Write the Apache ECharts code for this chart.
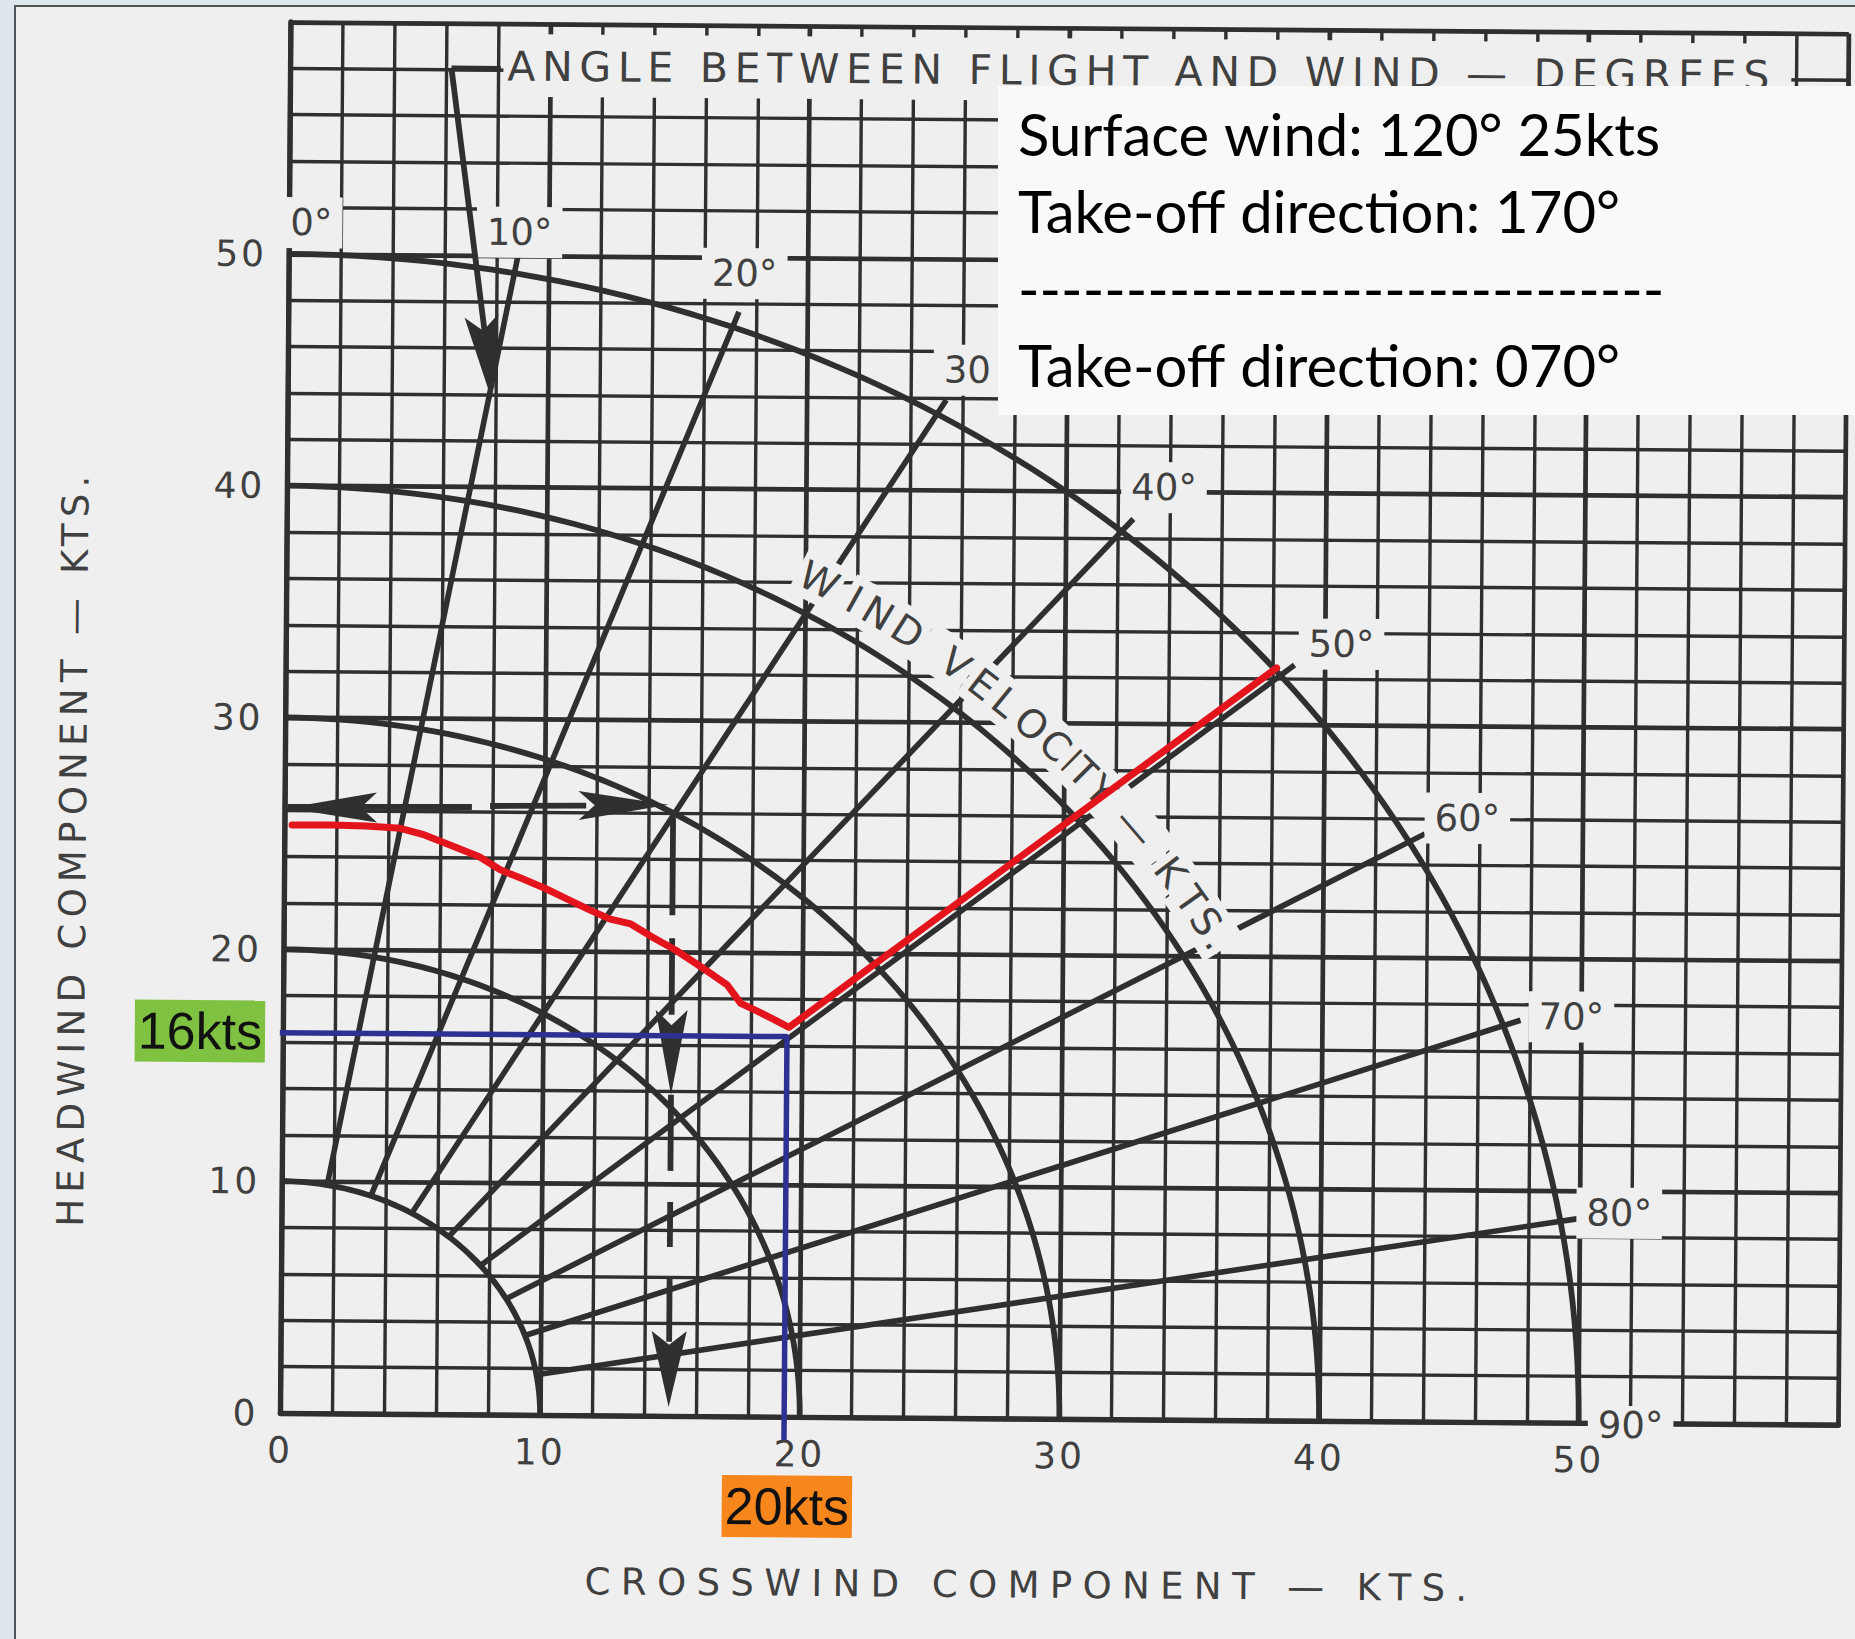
<!DOCTYPE html>
<html><head><meta charset="utf-8">
<script src="https://cdn.jsdelivr.net/npm/echarts@6/dist/echarts.min.js"></script>
<style>
html,body{margin:0;padding:0;width:1855px;height:1639px;overflow:hidden;background:#dde6eb;}
#paper{position:absolute;left:14px;top:5px;width:1841px;height:1634px;background:#efefef;border-left:2px solid #4f5457;border-top:2px solid #4f5457;box-sizing:border-box;}
#scan{position:absolute;left:0;top:0;width:1855px;height:1639px;transform:rotate(0.43deg);transform-origin:280.4px 1413px;}
#note{position:absolute;left:0;top:0;width:1855px;height:1639px;}
#scan text[style*="lsT"]{letter-spacing:6.7px;}
#scan text[style*="lsA"]{letter-spacing:10.4px;}
#scan text[style*="lsB"]{letter-spacing:6.3px;}
#scan text[style*="lsK"]{letter-spacing:3px;}
</style></head>
<body>
<div id="paper"></div>
<div id="scan"></div>
<div id="note"></div>
<script>
// ---------------- data ----------------
const AXIS_MAX = 60;
const AXIS_LABEL_MAX = 50;
const ARC_RADII = [10, 20, 30, 40, 50];
const RAY_ANGLES = [10, 20, 30, 40, 50, 60, 70, 80];
const RAY_SPAN = [10, 50.7];
const RAY_LABELS = ['0°', '10°', '20°', '30', '40°', '50°', '60°', '70°', '80°', '90°'];
const RAY_LABEL_X = [0.85, 8.87, 17.55, 26.15, 33.76, 40.64, 45.54, 49.6, 51.5, 52.0];
const RAY_LABEL_Y = [51.35, 51.0, 49.3, 45.2, 40.2, 33.5, 26.03, 17.5, 9.05, -0.1];
const WV_CHARS = ['W','I','N','D',' ','V','E','L','O','C','I','T','Y',' ','—',' ','K','T','S','.'];
const WV_ANGLES = [29.6,31.8,33.3,35.2,36.8,38.4,40.3,41.9,43.8,45.6,46.85,47.8,49.2,50.6,52.05,53.7,55.3,57.3,58.8,60.1];
const WV_RADIUS = 41.5;
// red solution line (crosswind x, headwind y)
const RED_X = [0.28,1.80,3.13,4.45,5.38,6.44,7.50,8.31,9.10,10.03,10.70,11.76,12.56,13.35,14.15,15.08,16.15,17.08,17.61,18.15,18.94,19.47,38.15];
const RED_Y = [25.37,25.38,25.35,25.26,24.98,24.52,24.06,23.50,23.15,22.72,22.36,21.80,21.41,21.21,20.67,20.10,19.32,18.61,17.82,17.54,17.11,16.80,32.46];
// blue read-off lines
const BLUE_X = [-0.35, 19.4, 19.4];
const BLUE_Y = [16.4, 16.4, -1.0];
const HEADWIND_READ = '16kts';
const CROSSWIND_READ = '20kts';
const HEADWIND_READ_POS = [-3.21, 16.45];
const CROSSWIND_READ_POS = [19.53, -3.87];
// dashed example arrows (segments x1,y1,x2,y2)
const DASH_SEGMENTS = [
  [0.1, 26.15, 7.2, 26.2], [7.9, 26.25, 11.6, 26.3],
  [14.95, 25.8, 14.95, 21.6], [14.95, 20.6, 14.95, 17.3], [14.95, 13.85, 14.95, 10.57],
  [14.95, 9.23, 14.95, 7.29], [14.95, 5.95, 14.95, 3.2],
  [8.1, 58.05, 6.2, 58.05], [6.2, 58.05, 7.84, 44.3]
];
// arrowheads: tipX, tipY, fromX, fromY, length(px), width(px)
const ARROW_HEADS = [
  [0.08, 26.1, 3.6, 26.15, 90, 30],
  [14.77, 26.36, 11.3, 26.3, 90, 29],
  [14.95, 13.85, 14.95, 17.5, 85, 32],
  [14.95, 0.38, 14.95, 3.66, 76, 35],
  [7.84, 43.8, 6.2, 58.05, 84, 34]
];
const TITLE = 'ANGLE BETWEEN FLIGHT AND WIND — DEGREES';
const TITLE_POS = [8.35, 58.15];
const TITLE_MASK = [8.2, 56.85, 57.8, 59.55];
const X_NAME = 'CROSSWIND COMPONENT — KTS.';
const Y_NAME = 'HEADWIND COMPONENT — KTS.';
const X_NAME_POS = [28.96, -7.18];
const Y_NAME_POS = [-8.14, 24.3];
const NOTE_LINES = ['Surface wind: 120° 25kts', 'Take-off direction: 170°', '------------------------------', 'Take-off direction: 070°'];

// ---------------- styles ----------------
const PAPER = '#efefef';
const INK = '#2f2f2f';
const TXT = '#404040';
const D2R = Math.PI / 180;

const scan = echarts.init(document.getElementById('scan'), null, {renderer: 'svg', width: 1855, height: 1639});

function polar(r, deg) { return [r * Math.sin(deg * D2R), r * Math.cos(deg * D2R)]; }

const textItems = [];
RAY_LABELS.forEach((t, i) => textItems.push({x: RAY_LABEL_X[i], y: RAY_LABEL_Y[i], text: t, font: 'DejaVu Sans', size: 37, fill: TXT, bg: PAPER,
  pad: i === RAY_LABELS.length - 1 ? [1, 10] : [7, 10]}));

const axisLabelStyle = {color: TXT, fontSize: 36, fontFamily: 'DejaVu Sans, lsK'};

scan.setOption({
  animation: false,
  backgroundColor: 'transparent',
  grid: {left: 280.4, top: 22, width: 1558, height: 1391, containLabel: false},
  xAxis: [
    {type: 'value', min: 0, max: AXIS_MAX, interval: 2, axisLine: {show: false}, axisTick: {show: false}, axisLabel: {show: false},
     splitLine: {show: true, lineStyle: {color: INK, width: 3.4}}},
    {type: 'value', min: 0, max: AXIS_MAX, interval: 10, position: 'bottom', axisLine: {show: true, onZero: false, lineStyle: {color: INK, width: 5.4}},
     axisTick: {show: false}, axisLabel: Object.assign({show: true, margin: 19, formatter: v => v <= AXIS_LABEL_MAX ? String(v) : ''}, axisLabelStyle),
     splitLine: {show: true, lineStyle: {color: INK, width: 4.7}}}
  ],
  yAxis: [
    {type: 'value', min: 0, max: AXIS_MAX, interval: 2, axisLine: {show: false}, axisTick: {show: false}, axisLabel: {show: false},
     splitLine: {show: true, lineStyle: {color: INK, width: 3.4}}},
    {type: 'value', min: 0, max: AXIS_MAX, interval: 10, position: 'left', axisLine: {show: true, onZero: false, lineStyle: {color: INK, width: 5.4}},
     axisTick: {show: false}, axisLabel: Object.assign({show: true, margin: 22, formatter: v => v <= AXIS_LABEL_MAX ? String(v) : ''}, axisLabelStyle),
     splitLine: {show: true, lineStyle: {color: INK, width: 4.7}}}
  ],
  series: [
    // angle rays
    {type: 'custom', z: 2, clip: false, data: RAY_ANGLES.map(a => [a, 0]),
     renderItem: (p, api) => {
       const a = api.value(0);
       return {type: 'polyline', shape: {points: [api.coord(polar(RAY_SPAN[0], a)), api.coord(polar(RAY_SPAN[1], a))]},
               style: {stroke: INK, lineWidth: 5.6, fill: null}};
     }},
    // title band mask + title
    {type: 'custom', z: 3, clip: false, data: [[TITLE_POS[0], TITLE_POS[1]]],
     renderItem: (p, api) => {
       const a = api.coord([TITLE_MASK[0], TITLE_MASK[3]]), b = api.coord([TITLE_MASK[2], TITLE_MASK[1]]);
       const c = api.coord([api.value(0), api.value(1)]);
       return {type: 'group', children: [
         {type: 'rect', shape: {x: a[0], y: a[1], width: b[0] - a[0], height: b[1] - a[1]}, style: {fill: PAPER}},
         {type: 'text', x: c[0], y: c[1], style: {text: TITLE, fontSize: 41, fontFamily: 'DejaVu Sans, lsT', fill: TXT, align: 'left', verticalAlign: 'middle'}}
       ]};
     }},
    // ray labels with masks
    {type: 'custom', z: 3, clip: false, data: textItems.map((t, i) => [t.x, t.y, i]),
     renderItem: (p, api) => {
       const t = textItems[api.value(2)];
       const c = api.coord([api.value(0), api.value(1)]);
       return {type: 'text', x: c[0], y: c[1], style: {text: t.text, fontSize: t.size, fontFamily: t.font, fill: t.fill,
               align: 'center', verticalAlign: 'middle', backgroundColor: t.bg, padding: t.pad}};
     }},
    // curved "WIND VELOCITY — KTS."
    {type: 'custom', z: 3, clip: false, data: WV_ANGLES.map((a, i) => [a, i]),
     renderItem: (p, api) => {
       const a = api.value(0), ch = WV_CHARS[api.value(1)];
       const c = api.coord(polar(WV_RADIUS, a));
       const p1 = api.coord(polar(WV_RADIUS, a - 0.5)), p2 = api.coord(polar(WV_RADIUS, a + 0.5));
       const rot = -Math.atan2(p2[1] - p1[1], p2[0] - p1[0]);
       return {type: 'text', x: c[0], y: c[1], rotation: rot,
               style: {text: ch, fontSize: 39, fontFamily: 'DejaVu Sans', fill: TXT, align: 'center', verticalAlign: 'middle',
                       backgroundColor: PAPER, padding: [4, 4]}};
     }},
    // wind velocity arcs
    {type: 'custom', z: 4, clip: false, data: ARC_RADII.map(r => [r, 0]),
     renderItem: (p, api) => {
       const r = api.value(0), pts = [];
       for (let a = 0; a <= 90; a += 1) pts.push(api.coord(polar(r, a)));
       return {type: 'polyline', shape: {points: pts}, style: {stroke: INK, lineWidth: 5.8, fill: null}};
     }},
    // dashed example arrows
    {type: 'custom', z: 5, clip: false, data: DASH_SEGMENTS,
     renderItem: (p, api) => ({type: 'polyline', shape: {points: [api.coord([api.value(0), api.value(1)]), api.coord([api.value(2), api.value(3)])]},
                               style: {stroke: INK, lineWidth: 5.8, fill: null}})},
    {type: 'custom', z: 5, clip: false, data: ARROW_HEADS,
     renderItem: (p, api) => {
       const tip = api.coord([api.value(0), api.value(1)]), fr = api.coord([api.value(2), api.value(3)]);
       const len = api.value(4), w = api.value(5);
       let dx = tip[0] - fr[0], dy = tip[1] - fr[1];
       const n = Math.hypot(dx, dy); dx /= n; dy /= n;
       const bx = tip[0] - dx * len, by = tip[1] - dy * len;
       return {type: 'polygon', shape: {points: [tip, [bx - dy * w / 2, by + dx * w / 2], [tip[0] - dx * len * 0.82, tip[1] - dy * len * 0.82], [bx + dy * w / 2, by - dx * w / 2]]},
               style: {fill: INK}};
     }},
    // axis titles
    {type: 'custom', z: 3, clip: false, data: [[X_NAME_POS[0], X_NAME_POS[1], 0], [Y_NAME_POS[0], Y_NAME_POS[1], 1]],
     renderItem: (p, api) => {
       const i = api.value(2), c = api.coord([api.value(0), api.value(1)]);
       return {type: 'text', x: c[0], y: c[1], rotation: i ? Math.PI / 2 : 0,
               style: {text: i ? Y_NAME : X_NAME, fontSize: 37, fontFamily: i ? 'DejaVu Sans, lsB' : 'DejaVu Sans, lsA', fill: TXT, align: 'center', verticalAlign: 'middle'}};
     }},
    // blue read-off lines
    {type: 'line', z: 9, clip: false, showSymbol: false, symbol: 'none', data: BLUE_X.map((x, i) => [x, BLUE_Y[i]]),
     lineStyle: {color: '#2e3192', width: 5.5}},
    // red solution line
    {type: 'line', z: 10, clip: false, showSymbol: false, symbol: 'none', data: RED_X.map((x, i) => [x, RED_Y[i]]),
     lineStyle: {color: '#e3141b', width: 7, join: 'round', cap: 'round'}},
    // read-off labels
    {type: 'custom', z: 11, clip: false, data: [[HEADWIND_READ_POS[0], HEADWIND_READ_POS[1], 0], [CROSSWIND_READ_POS[0], CROSSWIND_READ_POS[1], 1]],
     renderItem: (p, api) => {
       const i = api.value(2), c = api.coord([api.value(0), api.value(1)]);
       return {type: 'text', x: c[0], y: c[1],
               style: {text: i ? CROSSWIND_READ : HEADWIND_READ, fontSize: 52, fontFamily: 'Liberation Sans', fill: '#111',
                       align: 'center', verticalAlign: 'middle', backgroundColor: i ? '#f7861c' : '#7fc241', padding: [5, 3]}};
     }}
  ]
});

// ---------------- note box (slide overlay) ----------------
const note = echarts.init(document.getElementById('note'), null, {renderer: 'canvas', width: 1855, height: 1639});
const NOTE_BASELINES = [159, 236, 313, 390];
note.setOption({
  animation: false,
  backgroundColor: 'transparent',
  graphic: [
    {type: 'rect', shape: {x: 998, y: 86, width: 857, height: 329}, style: {fill: '#f9f9f9'}},
    ...NOTE_LINES.map((t, i) => ({type: 'text', x: 1018, y: NOTE_BASELINES[i] - 22,
        style: {text: t, fontSize: 58, fontFamily: 'Lato', fill: '#000', align: 'left', verticalAlign: 'middle'}}))
  ]
});
</script>
</body></html>
